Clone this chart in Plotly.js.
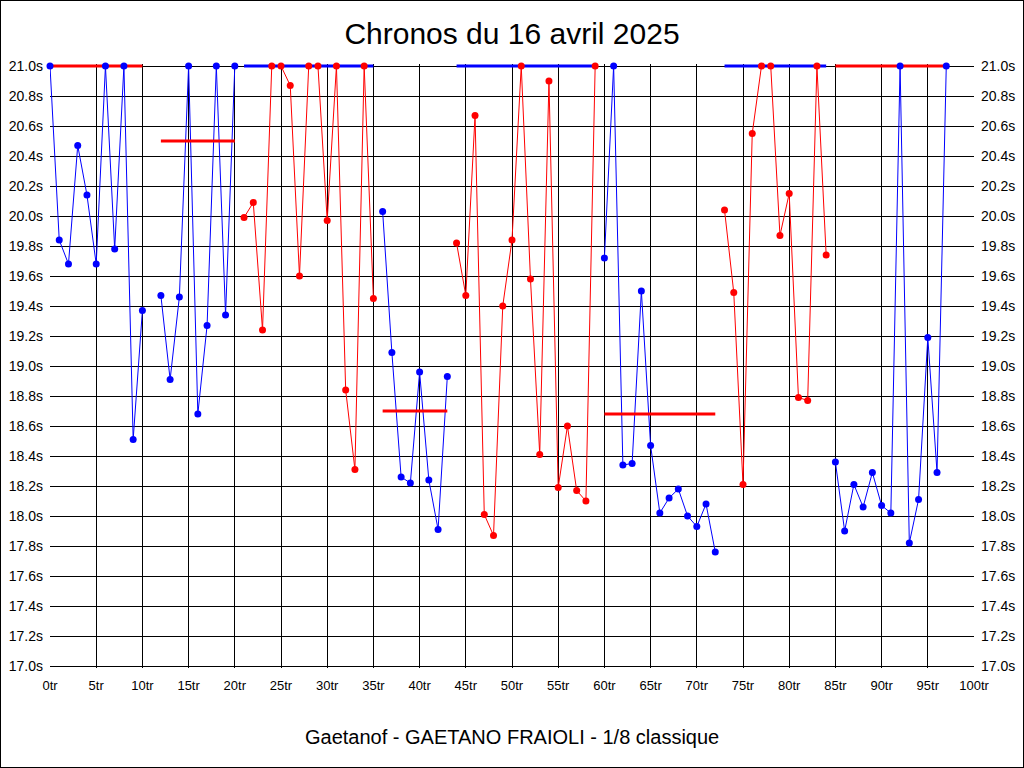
<!DOCTYPE html>
<html>
<head>
<meta charset="utf-8">
<script src="https://cdn.plot.ly/plotly-3.0.1.min.js"></script>
<style>
  html, body { margin: 0; padding: 0; background: #fff; }
  #wrap { position: relative; width: 1024px; height: 768px; }
  #chart { width: 1024px; height: 768px; }
  #frame { position: absolute; left: 0; top: 0; width: 1024px; height: 768px; box-sizing: border-box; border: 1px solid #000; pointer-events: none; }
</style>
</head>
<body>
<div id="wrap"><div id="chart"></div><div id="frame"></div></div>
<script>
// Lap numbers (tr) and lap times (s); values shown at 21.0 are clipped at the top of the scale
const laps = [
  0,1,2,3,4,5,6,7,8,9,10,11,12,13,14,15,16,17,18,19,20,
  21,22,23,24,25,26,27,28,29,30,31,32,33,34,35,
  36,37,38,39,40,41,42,43,
  44,45,46,47,48,49,50,51,52,53,54,55,56,57,58,59,
  60,61,62,63,64,65,66,67,68,69,70,71,72,
  73,74,75,76,77,78,79,80,81,82,83,84,
  85,86,87,88,89,90,91,92,93,94,95,96,97
];
const times = [
  21.0,19.84,19.68,20.47,20.14,19.68,21.0,19.78,21.0,18.51,19.37,null,19.47,18.91,19.46,21.0,18.68,19.27,21.0,19.34,21.0,
  19.99,20.09,19.24,21.0,21.0,20.87,19.60,21.0,21.0,19.97,21.0,18.84,18.31,21.0,19.45,
  20.03,19.09,18.26,18.22,18.96,18.24,17.91,18.93,
  19.82,19.47,20.67,18.01,17.87,19.40,19.84,21.0,19.58,18.41,20.90,18.19,18.60,18.17,18.10,21.0,
  19.72,21.0,18.34,18.35,19.50,18.47,18.02,18.12,18.18,18.00,17.93,18.08,17.76,
  20.04,19.49,18.21,20.55,21.0,21.0,19.87,20.15,18.79,18.77,21.0,19.74,
  18.36,17.90,18.21,18.06,18.29,18.07,18.02,21.0,17.82,18.11,19.19,18.29,21.0
];
// Series (groups of laps) and their mean time (clipped at 21.0)
const groupStart = [0, 12, 21, 36, 44, 60, 73, 85];
const groupEnd   = [10, 20, 35, 43, 59, 72, 84, 97];
const groupMean  = [21.0, 20.5, 21.0, 18.70, 21.0, 18.68, 21.0, 21.0];

const yTickVals = [];
for (let i = 0; i <= 20; i++) yTickVals.push(+(17 + i * 0.2).toFixed(1));
const xTickVals = [];
for (let i = 0; i <= 20; i++) xTickVals.push(i * 5);
const yTickText = yTickVals.map(v => v.toFixed(1) + 's');
const xTickText = xTickVals.map(v => v + 'tr');

const BLUE = '#0000ff', RED = '#ff0000';
const FONT = 'Liberation Sans, Arial, sans-serif';

const lineTraces = [], meanTraces = [], markerTraces = [];
for (let g = 0; g < groupStart.length; g++) {
  const xs = [], ys = [];
  for (let i = 0; i < laps.length; i++) {
    if (laps[i] >= groupStart[g] && laps[i] <= groupEnd[g] && times[i] !== null) {
      xs.push(laps[i]); ys.push(times[i]);
    }
  }
  const isBlue = [true, true, false, true, false, true, false, true][g];
  const c = isBlue ? BLUE : RED;
  const mc = isBlue ? RED : BLUE;
  lineTraces.push({
    x: xs, y: ys, type: 'scatter', mode: 'lines',
    line: { color: c, width: 1 }, hoverinfo: 'skip', showlegend: false
  });
  markerTraces.push({
    x: xs, y: ys, type: 'scatter', mode: 'markers', cliponaxis: false,
    marker: { color: c, size: 7 }, showlegend: false
  });
  meanTraces.push({
    x: [groupStart[g], groupEnd[g]], y: [groupMean[g], groupMean[g]],
    type: 'scatter', mode: 'lines', cliponaxis: false,
    line: { color: mc, width: 3 }, hoverinfo: 'skip', showlegend: false
  });
}
const dummyRight = {
  x: [0], y: [17], yaxis: 'y2', type: 'scatter', mode: 'markers',
  marker: { opacity: 0 }, hoverinfo: 'skip', showlegend: false
};

// small padding (2 px) above 21.0 and below 17.0 so thick lines at 21.0 are not clipped
const PAD = 2 / 150;
const yaxisCommon = {
  range: [17 - PAD, 21 + PAD], tickmode: 'array', tickvals: yTickVals, ticktext: yTickText,
  showgrid: true, gridcolor: '#000', gridwidth: 1, zeroline: false,
  showline: false,
  ticks: '', ticklabelstandoff: 6,
  tickfont: { family: FONT, size: 14, color: '#000' }, fixedrange: true
};

const layout = {
  width: 1024, height: 768,
  margin: { l: 50, r: 50, t: 64, b: 100 },
  paper_bgcolor: '#fff', plot_bgcolor: '#fff',
  title: {
    text: 'Chronos du 16 avril 2025',
    font: { family: FONT, size: 30, color: '#000' },
    x: 0.5, xanchor: 'center', yref: 'container', y: 1 - 33 / 768, yanchor: 'middle'
  },
  xaxis: {
    range: [0, 100], tickmode: 'array', tickvals: xTickVals, ticktext: xTickText,
    showgrid: true, gridcolor: '#000', gridwidth: 1, zeroline: false,
    showline: false,
    ticks: '', ticklabelstandoff: 8,
    tickfont: { family: FONT, size: 13, color: '#000' }, fixedrange: true
  },
  yaxis: Object.assign({}, yaxisCommon, { side: 'left' }),
  yaxis2: Object.assign({}, yaxisCommon, { side: 'right', overlaying: 'y', showgrid: false }),
  annotations: [{
    text: 'Gaetanof - GAETANO FRAIOLI - 1/8 classique',
    xref: 'paper', yref: 'paper', x: 0.5, y: -(733 - 664) / 604,
    xanchor: 'center', yanchor: 'middle', showarrow: false,
    font: { family: FONT, size: 20, color: '#000' }
  }]
};

Plotly.newPlot('chart', [...lineTraces, ...meanTraces, ...markerTraces, dummyRight], layout,
  { staticPlot: true, displayModeBar: false });
</script>
</body>
</html>
